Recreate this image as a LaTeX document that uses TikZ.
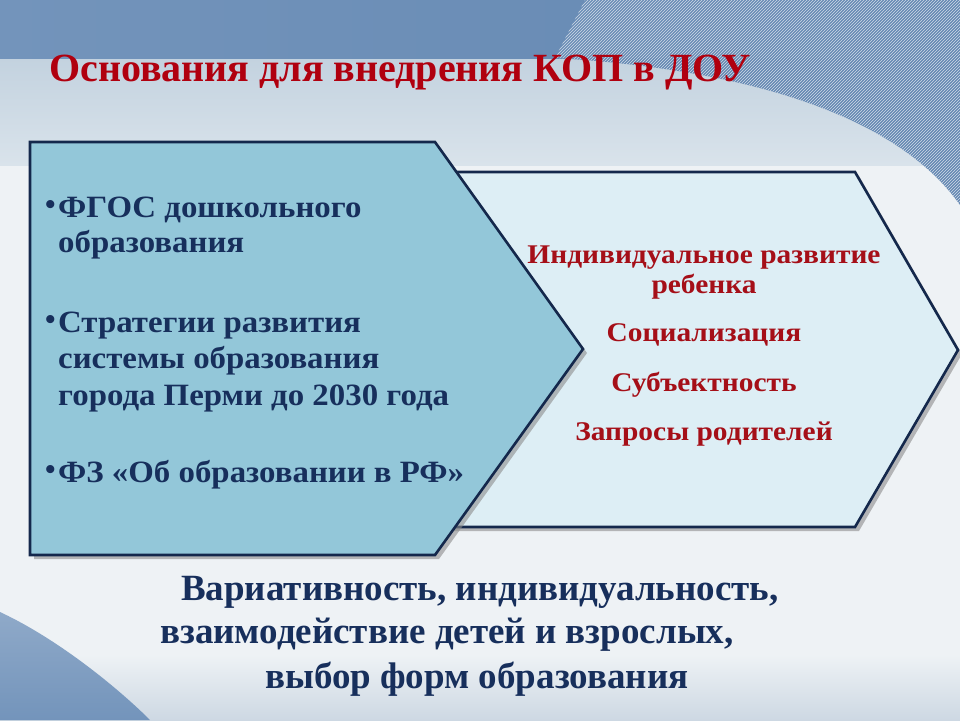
\documentclass[tikz,border=0pt]{standalone}
\usepackage{fontspec}
\setmainfont{Liberation Serif}
\newfontfamily\wideA[FakeStretch=1.06]{Liberation Serif}
\newfontfamily\wideB[FakeStretch=1.09]{Liberation Serif}
\usetikzlibrary{shadows,patterns}
\definecolor{bgmain}{HTML}{EEF2F5}
\definecolor{topblue}{HTML}{6488B2}
\definecolor{topblueb}{HTML}{7394BB}
\definecolor{banda}{HTML}{C3D2DF}
\definecolor{bandb}{HTML}{D9E3EB}
\definecolor{botband}{HTML}{CDD8E3}
\definecolor{navy}{HTML}{172F5C}
\definecolor{edge}{HTML}{14284C}
\definecolor{leftfill}{HTML}{93C7D9}
\definecolor{rightfill}{HTML}{DDEEF5}
\definecolor{darkred}{HTML}{A50F18}
\definecolor{titlered}{HTML}{B0000F}
\tikzset{
  panel/.style={draw=edge, line width=2.6pt, line join=miter,
    drop shadow={shadow xshift=4pt, shadow yshift=-4pt, fill=black!45, opacity=0.6}},
  lefttxt/.style={anchor=base west, inner sep=0pt, text=navy,
    font=\wideA\fontsize{31}{31}\selectfont\bfseries},
  bullet/.style={anchor=base west, inner sep=0pt, text=navy,
    font=\fontsize{30}{30}\selectfont\bfseries},
  righttxt/.style={anchor=base, inner sep=0pt, text=darkred,
    font=\wideB\fontsize{27}{27}\selectfont\bfseries},
  bottxt/.style={anchor=base west, inner sep=0pt, text=navy,
    font=\fontsize{37}{37}\selectfont\bfseries},
}
\begin{document}
\begin{tikzpicture}[x=1pt,y=-1pt]
\useasboundingbox (0,0) rectangle (960,720);
% background
\fill[bgmain] (0,0) rectangle (960,720);
\shade[top color=banda, bottom color=bandb] (0,58) rectangle (960,165);
\shade[left color=topblueb, right color=topblue] (0,0) rectangle (960,58);
\fill[topblue] (555,58) .. controls (760,70) and (900,120) .. (960,205) -- (960,58) -- cycle;
\fill[pattern=north east lines, pattern color=white!70!topblue]
  (585,0) -- (960,0) -- (960,205) .. controls (900,120) and (760,70) .. (555,58) -- cycle;
% bottom
\shade[top color=bgmain, bottom color=botband] (0,655) rectangle (960,720);
\shade[top color=topblueb!80, bottom color=topblueb] (0,612) .. controls (60,640) and (120,690) .. (150,720) -- (0,720) -- cycle;
% panels
\path[panel, fill=rightfill] (400,172) -- (855,172) -- (958,350) -- (855,527) -- (400,527) -- cycle;
\path[panel, fill=leftfill] (30,142) -- (435,142) -- (583,349) -- (435,555) -- (30,555) -- cycle;
% title
\node[anchor=base west, inner sep=0pt, text=titlered, font=\fontsize{40}{40}\selectfont\bfseries] (title) at (49,81) {Основания для внедрения КОП в ДОУ};
% left text
\node[bullet] (b1) at (45,214) {•};
\node[lefttxt] (l1) at (58,217) {ФГОС дошкольного};
\node[lefttxt] (l2) at (58,252) {образования};
\node[bullet] (b2) at (45,329) {•};
\node[lefttxt] (l3) at (58,332) {Стратегии развития};
\node[lefttxt] (l4) at (58,368) {системы образования};
\node[lefttxt] (l5) at (58,405) {города Перми до 2030 года};
\node[bullet] (b3) at (45,479) {•};
\node[lefttxt] (l6) at (58,482) {ФЗ «Об образовании в РФ»};
% right text
\node[righttxt] (r1) at (704,263) {Индивидуальное развитие};
\node[righttxt] (r2) at (704,293) {ребенка};
\node[righttxt] (r3) at (704,341) {Социализация};
\node[righttxt] (r4) at (704,391) {Субъектность};
\node[righttxt] (r5) at (704,440) {Запросы родителей};
% bottom text
\node[bottxt] (t1) at (181,600) {Вариативность, индивидуальность,};
\node[bottxt] (t2) at (160,643) {взаимодействие детей и взрослых,};
\node[bottxt] (t3) at (265,688) {выбор форм образования};
\end{tikzpicture}
\end{document}
